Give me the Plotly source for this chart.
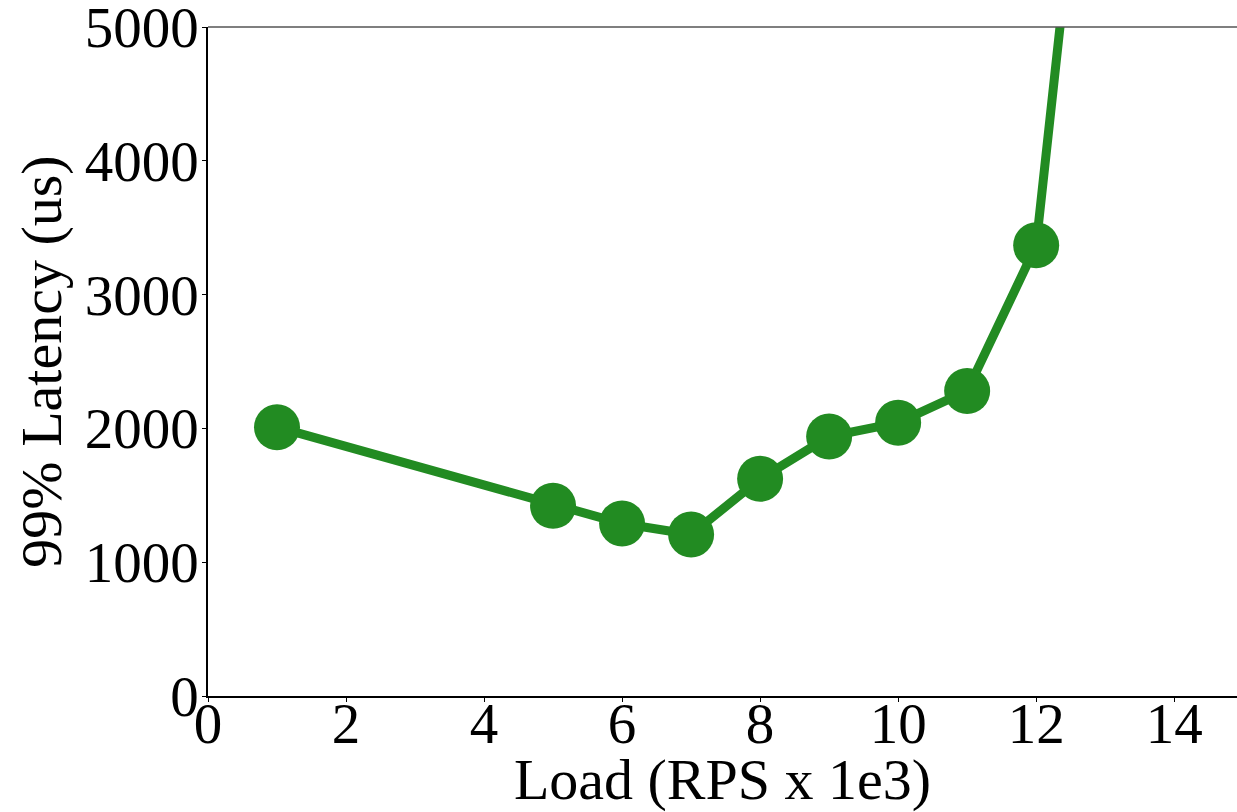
import plotly.graph_objects as go

load = [1, 5, 6, 7, 8, 9, 10, 11, 12, 13]
latency = [2009, 1421, 1289, 1207, 1623, 1939, 2043, 2280, 3368, 8100]

x_ticks = [0, 2, 4, 6, 8, 10, 12, 14]
y_ticks = [0, 1000, 2000, 3000, 4000, 5000]

GREEN = "#228B22"
FONT = "Liberation Serif"

fig = go.Figure()
fig.add_trace(go.Scatter(
    x=load, y=latency, mode="lines+markers",
    line=dict(color=GREEN, width=9),
    marker=dict(color=GREEN, size=46),
    cliponaxis=True,
    showlegend=False,
))

fig.update_layout(
    width=1237, height=812,
    margin=dict(l=208, r=0, t=27, b=116, autoexpand=False),
    paper_bgcolor="white", plot_bgcolor="white",
    font=dict(family=FONT, size=57, color="black"),
    xaxis=dict(
        range=[0, 14.91], tickvals=x_ticks, ticktext=[str(v) for v in x_ticks],
        showgrid=False, zeroline=False, showline=True, linecolor="black", linewidth=1.5,
        ticks="outside", ticklen=4, tickwidth=1, tickcolor="black",
        ticklabeloverflow="allow", ticklabelstandoff=-27, automargin=False,
        title=dict(text="Load (RPS x 1e3)", standoff=14, font=dict(size=58)),
        tickfont=dict(size=57),
    ),
    yaxis=dict(
        range=[0, 5000], tickvals=y_ticks, ticktext=[str(v) for v in y_ticks],
        showgrid=False, zeroline=False, showline=True, linecolor="black", linewidth=1.5,
        ticks="outside", ticklen=4, tickwidth=1, tickcolor="black",
        ticklabeloverflow="allow", ticklabelstandoff=-8, automargin=False,
        title=dict(text="99% Latency (us)", standoff=5, font=dict(size=58)),
        tickfont=dict(size=57),
    ),
    shapes=[dict(type="line", xref="paper", yref="paper", x0=0, x1=1, y0=1, y1=1,
                 line=dict(color="#555555", width=1.5))],
)

fig.write_html("out.html", config={"displayModeBar": False},
               post_script="document.body.style.margin='0px';document.body.style.overflow='hidden';")
